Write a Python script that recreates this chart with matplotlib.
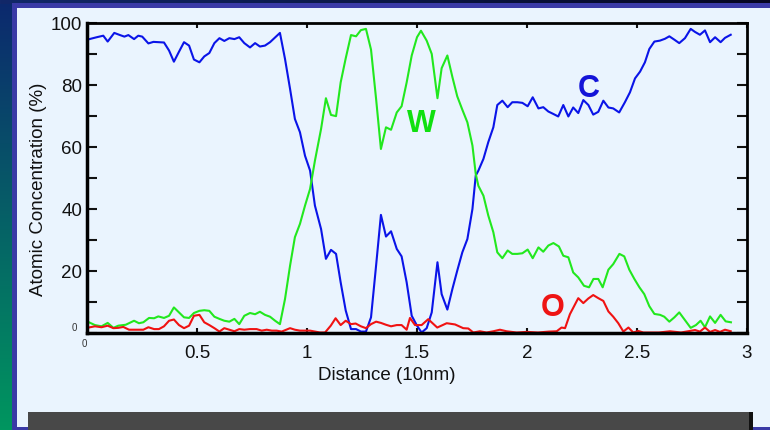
import numpy as np
import matplotlib.pyplot as plt
from matplotlib.patches import Rectangle

plt.rcParams['font.family'] = ['Liberation Sans', 'DejaVu Sans']

# C (carbono) - curva azul
dist_c = [0.000, 0.044, 0.074, 0.094, 0.124, 0.150, 0.170, 0.188, 0.214, 0.233,
          0.251, 0.279, 0.302, 0.350, 0.373, 0.395, 0.418, 0.441, 0.464, 0.486,
          0.511, 0.533, 0.556, 0.579, 0.602, 0.624, 0.647, 0.670, 0.692, 0.715,
          0.741, 0.764, 0.786, 0.809, 0.832, 0.877, 0.900, 0.923, 0.945, 0.968,
          0.991, 1.014, 1.036, 1.064, 1.086, 1.109, 1.132, 1.153, 1.176, 1.200,
          1.223, 1.245, 1.268, 1.291, 1.314, 1.336, 1.359, 1.382, 1.408, 1.430,
          1.453, 1.476, 1.500, 1.521, 1.544, 1.567, 1.593, 1.612, 1.638, 1.661,
          1.683, 1.706, 1.729, 1.752, 1.767, 1.779, 1.802, 1.824, 1.847, 1.865,
          1.888, 1.912, 1.933, 1.956, 1.979, 2.003, 2.026, 2.052, 2.074, 2.097,
          2.120, 2.142, 2.165, 2.188, 2.210, 2.233, 2.256, 2.279, 2.301, 2.324,
          2.347, 2.370, 2.392, 2.419, 2.445, 2.468, 2.491, 2.514, 2.536, 2.556,
          2.579, 2.604, 2.627, 2.647, 2.670, 2.692, 2.718, 2.744, 2.764, 2.786,
          2.809, 2.832, 2.855, 2.880, 2.900, 2.926]
conc_c = [94.6, 95.4, 95.9, 94.0, 96.8, 96.1, 95.6, 96.1, 94.8, 95.9,
          95.6, 93.4, 93.9, 93.7, 91.1, 87.5, 90.7, 93.8, 92.7, 88.2,
          87.3, 89.2, 90.3, 93.5, 95.1, 94.2, 95.1, 94.8, 95.4, 93.5,
          92.1, 93.5, 92.4, 92.7, 93.8, 96.8, 88.4, 78.7, 69.0, 64.7,
          57.1, 52.3, 41.0, 33.4, 23.8, 26.7, 25.4, 16.2, 7.1, 1.1,
          1.1, 0.3, 0.3, 4.9, 21.6, 38.0, 31.0, 32.7, 27.0, 24.6,
          16.2, 5.4, 2.2, 0.0, 1.4, 6.5, 22.7, 12.4, 7.4, 14.1,
          20.0, 25.9, 30.2, 39.9, 50.7, 52.3, 56.1, 61.5, 66.3, 73.5,
          74.9, 72.8, 74.4, 74.4, 74.2, 73.1, 76.0, 72.4, 72.8, 71.4,
          70.6, 69.8, 73.5, 69.8, 72.7, 70.9, 75.1, 73.5, 70.4, 71.3,
          74.9, 72.7, 72.4, 71.1, 74.4, 77.6, 82.1, 84.3, 87.3, 91.6,
          94.0, 94.3, 94.9, 95.7, 94.6, 93.5, 95.1, 98.1, 97.1, 96.2,
          97.6, 93.8, 95.4, 93.8, 95.2, 96.2]

# W (tungstenio) - curva verde
dist_w = [0.000, 0.036, 0.066, 0.094, 0.120, 0.142, 0.176, 0.214, 0.236, 0.256,
          0.282, 0.305, 0.324, 0.350, 0.373, 0.395, 0.418, 0.441, 0.464, 0.486,
          0.511, 0.533, 0.556, 0.579, 0.602, 0.624, 0.647, 0.670, 0.692, 0.715,
          0.741, 0.764, 0.786, 0.809, 0.832, 0.855, 0.877, 0.900, 0.923, 0.945,
          0.968, 0.991, 1.014, 1.036, 1.064, 1.086, 1.109, 1.132, 1.153, 1.176,
          1.200, 1.223, 1.245, 1.268, 1.291, 1.314, 1.336, 1.359, 1.382, 1.408,
          1.430, 1.453, 1.476, 1.500, 1.518, 1.544, 1.567, 1.593, 1.612, 1.638,
          1.661, 1.683, 1.706, 1.729, 1.752, 1.767, 1.779, 1.802, 1.824, 1.847,
          1.865, 1.888, 1.912, 1.933, 1.956, 1.979, 2.003, 2.026, 2.052, 2.074,
          2.097, 2.120, 2.145, 2.165, 2.188, 2.210, 2.233, 2.259, 2.282, 2.302,
          2.324, 2.344, 2.370, 2.392, 2.420, 2.442, 2.465, 2.488, 2.511, 2.533,
          2.556, 2.579, 2.605, 2.624, 2.647, 2.670, 2.692, 2.718, 2.744, 2.768,
          2.789, 2.809, 2.832, 2.855, 2.880, 2.903, 2.927]
conc_w = [3.6, 2.4, 2.0, 3.1, 1.5, 2.2, 2.5, 3.8, 3.0, 3.3,
          4.7, 4.6, 5.2, 4.7, 5.4, 8.1, 6.5, 4.9, 4.7, 6.3,
          7.0, 7.2, 7.0, 5.1, 4.4, 3.8, 3.5, 4.4, 2.7, 5.4,
          6.3, 5.9, 6.7, 5.7, 5.1, 3.8, 2.7, 10.8, 21.6, 30.8,
          35.1, 41.0, 46.4, 55.5, 65.8, 75.7, 70.3, 69.9, 80.8, 88.6,
          96.1, 95.7, 97.7, 98.1, 91.4, 75.5, 59.3, 66.3, 65.5, 71.1,
          73.1, 80.8, 89.5, 95.4, 97.5, 94.3, 90.0, 75.7, 85.4, 89.5,
          82.5, 76.3, 72.0, 67.9, 60.4, 51.2, 47.4, 44.2, 37.8, 32.4,
          25.9, 24.0, 26.5, 25.4, 25.4, 25.6, 26.8, 24.0, 27.5, 26.1,
          28.1, 28.9, 27.8, 24.8, 24.3, 19.4, 17.8, 15.1, 14.6, 17.3,
          17.3, 14.6, 20.3, 22.1, 25.4, 24.6, 20.3, 17.3, 14.6, 12.4,
          8.5, 6.0, 5.7, 5.1, 3.5, 4.9, 6.5, 4.0, 1.5, 2.4,
          3.8, 1.7, 5.2, 3.1, 5.7, 3.6, 3.3]

# O (oxigenio) - curva vermelha
dist_o = [0.000, 0.036, 0.066, 0.094, 0.120, 0.142, 0.165, 0.191, 0.218, 0.256,
          0.279, 0.305, 0.327, 0.350, 0.373, 0.395, 0.418, 0.441, 0.464, 0.486,
          0.511, 0.533, 0.556, 0.579, 0.602, 0.624, 0.647, 0.670, 0.692, 0.715,
          0.741, 0.771, 0.794, 0.817, 0.840, 0.862, 0.885, 0.923, 0.945, 0.968,
          1.014, 1.059, 1.082, 1.108, 1.130, 1.153, 1.176, 1.200, 1.221, 1.245,
          1.268, 1.291, 1.314, 1.336, 1.359, 1.382, 1.408, 1.430, 1.453, 1.468,
          1.491, 1.521, 1.551, 1.592, 1.635, 1.673, 1.710, 1.733, 1.756, 1.786,
          1.816, 1.847, 1.877, 1.907, 1.953, 2.000, 2.050, 2.100, 2.135, 2.157,
          2.173, 2.195, 2.233, 2.256, 2.279, 2.301, 2.324, 2.347, 2.370, 2.392,
          2.415, 2.438, 2.461, 2.483, 2.506, 2.529, 2.600, 2.650, 2.700, 2.764,
          2.786, 2.809, 2.832, 2.855, 2.877, 2.900, 2.926]
conc_o = [1.5, 2.0, 1.7, 2.2, 1.4, 1.5, 1.8, 0.9, 0.9, 0.9,
          1.7, 1.1, 1.1, 2.0, 3.8, 4.2, 2.4, 1.4, 2.2, 5.4,
          5.7, 3.3, 2.4, 1.4, 0.3, 1.4, 0.9, 0.4, 1.1, 0.9,
          1.1, 1.1, 0.6, 0.9, 0.6, 0.6, 0.3, 1.4, 0.9, 0.6,
          0.6, 0.0, 0.0, 2.2, 4.6, 2.4, 3.8, 2.7, 2.9, 2.0,
          1.4, 2.7, 3.5, 3.1, 2.5, 2.0, 2.4, 2.4, 0.9, 4.7,
          2.4, 2.4, 4.3, 1.6, 3.0, 2.6, 1.4, 1.3, 0.0, 0.4,
          0.0, 0.4, 0.9, 0.4, 0.0, 0.2, 0.0, 0.3, 0.4, 1.6,
          1.4, 5.9, 11.1, 9.5, 11.0, 12.1, 11.1, 10.2, 6.8, 5.1,
          3.0, 0.3, 1.6, 0.0, 0.5, 0.0, 0.0, 0.4, 0.0, 0.8,
          0.3, 1.6, 0.2, 0.8, 0.2, 0.9, 0.4]

x_ticks = [0.5, 1, 1.5, 2, 2.5, 3]
x_labels = ['0.5', '1', '1.5', '2', '2.5', '3']
y_ticks = list(range(0, 101, 10))
y_labels = ['', '', '20', '', '40', '', '60', '', '80', '', '100']

W, H = 770, 431
fig = plt.figure(figsize=(W / 100, H / 100), dpi=100)

# fundo do slide: faixa esquerda em degrade azul -> verde, faixa do topo escura
bg = fig.add_axes([0, 0, 1, 1])
bg.set_xlim(0, W)
bg.set_ylim(H, 0)
bg.axis('off')
t = np.linspace(0, 1, H)[:, None]
coluna = np.array([12, 40, 110]) * (1 - t) + np.array([0, 150, 95]) * t
img = np.broadcast_to(coluna[:, None, :], (H, W, 3)).copy()
s = np.linspace(0, 1, W)[:, None]
topo = np.array([18, 40, 105]) * (1 - s) + np.array([5, 5, 32]) * s
img[:5] = topo[None, :, :]
bg.imshow(img / 255, extent=(0, W, H, 0), aspect='auto', interpolation='bilinear')
bg.add_patch(Rectangle((12, 4), W - 12, H - 4, facecolor='#3a3aa6', edgecolor='none'))
bg.add_patch(Rectangle((17, 9), W - 17, 419.5, facecolor='#EAF4FE', edgecolor='none'))
bg.add_patch(Rectangle((28, 413.5), 725, 20, facecolor='#111111', edgecolor='none'))
bg.add_patch(Rectangle((28, 413.5), 721, 20, facecolor='#484848', edgecolor='none'))

ax = fig.add_axes([87 / W, 1 - 333.5 / H, 660 / W, 309.5 / H])
ax.set_facecolor('none')

ax.plot(dist_c, conc_c, color='#0A14E8', lw=1.5)
ax.plot(dist_w, conc_w, color='#22E81E', lw=1.5)
ax.plot(dist_o, conc_o, color='#F01212', lw=1.5)

ax.text(1.52, 67.7, 'W', color='#10E010', fontsize=22, fontweight='bold', ha='center', va='center')
ax.text(2.28, 79.0, 'C', color='#1414D8', fontsize=22, fontweight='bold', ha='center', va='center')
ax.text(2.116, 8.4, 'O', color='#EE1414', fontsize=22, fontweight='bold', ha='center', va='center')

ax.set_xlim(0, 3)
ax.set_ylim(0, 100)
ax.set_xticks(x_ticks)
ax.set_xticklabels(x_labels)
ax.set_yticks(y_ticks)
ax.set_yticklabels(y_labels)
ax.tick_params(axis='y', direction='in', length=7, width=1.5, left=True, right=True,
               labelsize=13.5, pad=3.5, colors='#111111')
ax.tick_params(axis='x', direction='in', length=3.5, width=1.5, top=True, bottom=True,
               labelsize=13.5, pad=8, colors='#111111')

# zeros pequenos nos cantos
ax.text(-0.0197, 1.9, '0', transform=ax.get_yaxis_transform(), fontsize=7,
        color='#333333', ha='center', va='center')
ax.text(-0.01, -0.0355, '0', transform=ax.get_xaxis_transform(), fontsize=7,
        color='#333333', ha='center', va='center')

for lado, lw in [('left', 2.5), ('bottom', 2.5), ('top', 2), ('right', 2)]:
    ax.spines[lado].set_linewidth(lw)
    ax.spines[lado].set_color('black')

ax.set_xlabel('Distance (10nm)', fontsize=13.5, color='#111111')
ax.set_ylabel('Atomic Concentration (%)', fontsize=13.5, color='#111111')
ax.xaxis.set_label_coords(0.4545, -0.108)
ax.yaxis.set_label_coords(-0.060, 0.467)

fig.savefig('out.png', dpi=100)
